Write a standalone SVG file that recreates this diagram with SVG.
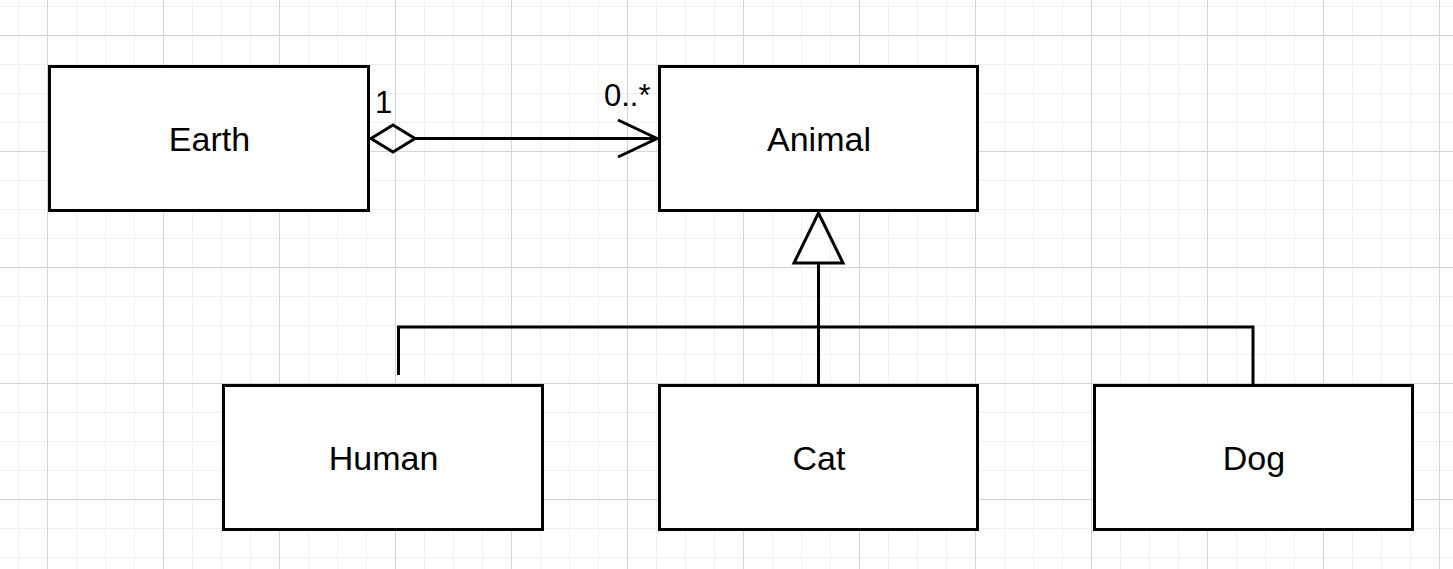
<svg xmlns="http://www.w3.org/2000/svg" width="1453" height="569" viewBox="0 0 1453 569">
<style>
.box{fill:#fff;stroke:#000;stroke-width:3}
.lbl{font-family:"Liberation Sans",Arial,sans-serif;font-size:34px;fill:#000;text-anchor:middle}
.mult{font-family:"Liberation Sans",Arial,sans-serif;font-size:31px;fill:#000}
.edge{fill:none;stroke:#000;stroke-width:3}
</style>
<defs>
<pattern id="minor" width="29" height="29" patternUnits="userSpaceOnUse" x="18" y="6">
<path d="M0 0V29M0 0H29" fill="none" stroke="#f0f0f0" stroke-width="2"/>
</pattern>
<pattern id="major" width="116" height="116" patternUnits="userSpaceOnUse" x="47" y="35">
<path d="M0.5 0V116M0 0.5H116" fill="none" stroke="#d4d4d4" stroke-width="1"/>
</pattern>
</defs>
<rect width="1453" height="569" fill="#fff"/>
<rect width="1453" height="569" fill="url(#minor)"/>
<rect width="1453" height="569" fill="url(#major)"/>
<g id="connectors">
<g id="aggregation">
<path class="edge" d="M415 138.5H657"/>
<path class="edge" d="M371 138.5L393 125L415 138.5L393 152Z"/>
<path class="edge" d="M618 120L657 138.5L618 157"/>
</g>
<g id="generalization">
<path class="edge" d="M398.5 375V327H1253V385"/>
<path class="edge" d="M818.5 385V263"/>
<path class="edge" d="M818.5 213L843 263H794Z" fill="#fff"/>
</g>
</g>
<text class="mult" x="375" y="113">1</text>
<text class="mult" x="604" y="106">0..*</text>
<g id="earth"><rect class="box" x="49.5" y="66.5" width="319" height="144"/><text class="lbl" x="209.5" y="151">Earth</text></g>
<g id="animal"><rect class="box" x="659.5" y="66.5" width="318" height="144"/><text class="lbl" x="819" y="151">Animal</text></g>
<g id="human"><rect class="box" x="223.5" y="385.5" width="319" height="144"/><text class="lbl" x="383.5" y="470">Human</text></g>
<g id="cat"><rect class="box" x="659.5" y="385.5" width="318" height="144"/><text class="lbl" x="819" y="470">Cat</text></g>
<g id="dog"><rect class="box" x="1094.5" y="385.5" width="318" height="144"/><text class="lbl" x="1254" y="470">Dog</text></g>
</svg>
